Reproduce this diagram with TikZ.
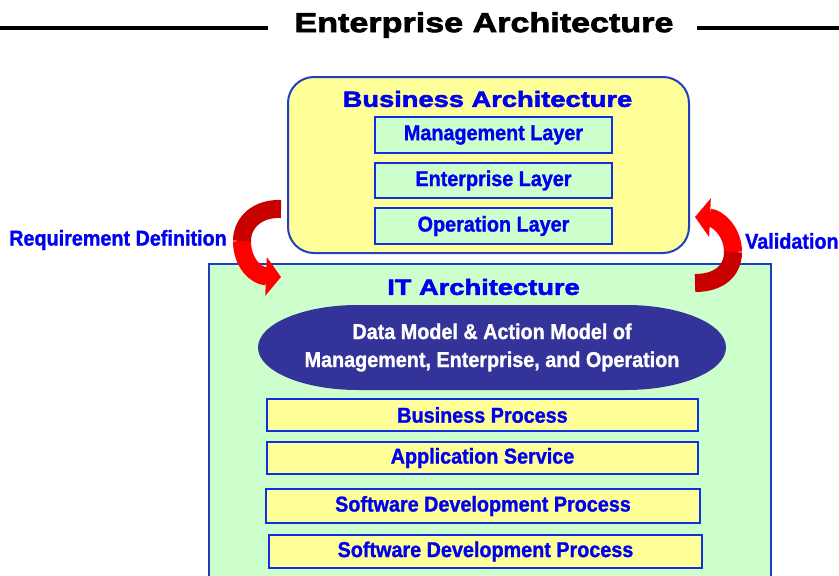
\documentclass[tikz,border=0pt]{standalone}
\usepackage{fontspec}
\setmainfont{Liberation Sans}
\newfontfamily\headfont[FakeStretch=1.24,FakeBold=2.5]{Liberation Sans}
\newfontfamily\narrowfont[FakeStretch=0.92,FakeBold=1.2]{Liberation Sans}
\usetikzlibrary{arrows.meta}
\definecolor{txtblue}{HTML}{0000EE}
\definecolor{edgeblue}{HTML}{1030E0}
\definecolor{outerblue}{HTML}{1F3FBF}
\definecolor{paleyellow}{HTML}{FFFF99}
\definecolor{palegreen}{HTML}{CCFFCC}
\definecolor{navy}{HTML}{333399}
\definecolor{darkred}{HTML}{C80000}
\definecolor{brightred}{HTML}{FF0000}
\tikzset{
  headtext/.style={font=\headfont\bfseries\fontsize{22}{24}\selectfont, text=txtblue, inner sep=0pt},
  layerbox/.style={draw=edgeblue, line width=2pt, fill=palegreen, inner sep=0pt,
    font=\narrowfont\bfseries\fontsize{21.5}{23}\selectfont, text=txtblue},
  procbox/.style={draw=edgeblue, line width=2pt, fill=paleyellow, inner sep=0pt,
    font=\narrowfont\bfseries\fontsize{21.5}{23}\selectfont, text=txtblue},
  sidelabel/.style={font=\narrowfont\bfseries\fontsize{21.5}{23}\selectfont, text=txtblue, inner sep=0pt},
  bandA/.style={line width=18pt, draw=darkred},
  bandB/.style={line width=18pt, draw=brightred, -{Triangle[width=38pt,length=15pt]}},
}
\begin{document}
\begin{tikzpicture}[x=1pt,y=-1pt]
\useasboundingbox (0,0) rectangle (839,576);
\clip (0,0) rectangle (839,576);
% title
\node[font=\headfont\bfseries\fontsize{27.5}{30}\selectfont, inner sep=0pt] (title) at (484,25) {Enterprise Architecture};
\coordinate (tl0) at (0,28);
\coordinate (tl1) at (268,28);
\coordinate (tr0) at (697,28);
\coordinate (tr1) at (839,28);
\draw[line width=4.5pt] (tl0) -- (tl1);
\draw[line width=4.5pt] (tr0) -- (tr1);
% business architecture
\node[draw=outerblue, line width=2pt, fill=paleyellow, rounded corners=26pt,
      minimum width=401pt, minimum height=176pt, inner sep=0pt] (ba) at (488.5,165) {};
\node[headtext] (batitle) at (487.5,99) {Business Architecture};
\node[layerbox, minimum width=237pt, minimum height=36pt] (ml) at (493.5,135) {Management Layer};
\node[layerbox, minimum width=237pt, minimum height=35pt] (el) at (493.5,180.5) {Enterprise Layer};
\node[layerbox, minimum width=237pt, minimum height=36pt] (ol) at (493.5,226) {Operation Layer};
% IT architecture
\node[draw=outerblue, line width=2pt, fill=palegreen, minimum width=562pt, minimum height=360pt,
      inner sep=0pt, anchor=north west] (it) at (208,263) {};
\node[headtext] (ittitle) at (483.5,287) {IT Architecture};
% data model shape (rectangle with elliptic ends)
\coordinate (dmtl) at (358,305);
\coordinate (dmbr) at (626,390);
\fill[navy] (dmtl) -- (626,305) arc[start angle=90, end angle=-90, x radius=100pt, y radius=42.5pt]
   -- (358,390) arc[start angle=-90, end angle=-270, x radius=100pt, y radius=42.5pt] -- cycle;
\node[inner sep=0pt, text=white, align=center,
      font=\narrowfont\bfseries\fontsize{21.5}{28}\selectfont] (dm) at (492,347.5)
      {Data Model \& Action Model of\\Management, Enterprise, and Operation};
\node[procbox, minimum width=431pt, minimum height=32pt] (bp) at (482.5,415) {Business Process};
\node[procbox, minimum width=431pt, minimum height=32pt] (as) at (482.5,458) {Application Service};
\node[procbox, minimum width=434pt, minimum height=34pt] (sd1) at (483,506) {Software Development Process};
\node[procbox, minimum width=433pt, minimum height=33pt] (sd2) at (485.5,551.5) {Software Development Process};
% side labels
\node[sidelabel] (req) at (118,240) {Requirement Definition};
\node[sidelabel, anchor=west] (val) at (745,241) {Validation};
% left arrow
\coordinate (la0) at (281,209);
\coordinate (la1) at (242,241);
\coordinate (la2) at (281,277);
\draw[bandB] (la1) .. controls (242,263) and (256,276) .. (la2);
\draw[bandA] (la0) .. controls (258,208) and (242,222) .. (la1);
% right arrow
\coordinate (ra0) at (695,283);
\coordinate (ra1) at (733,252);
\coordinate (ra2) at (695,217);
\draw[bandB] (ra1) .. controls (733,232) and (718,218) .. (ra2);
\draw[bandA] (ra0) .. controls (720,283) and (733,270) .. (ra1);
\end{tikzpicture}
\end{document}
